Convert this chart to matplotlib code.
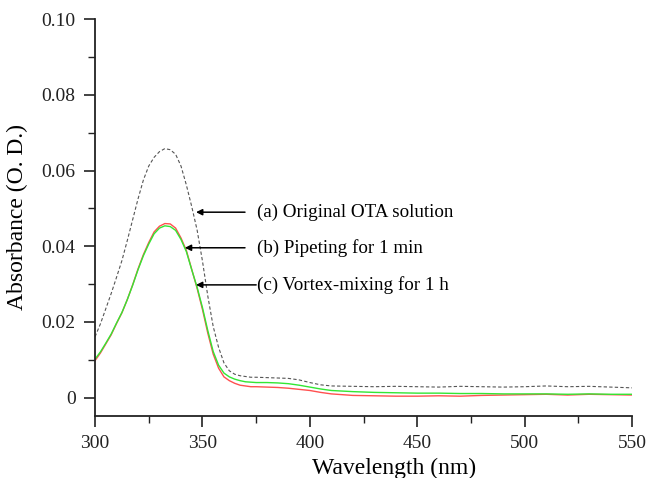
import matplotlib.pyplot as plt
from matplotlib.ticker import FixedLocator, FixedFormatter, MultipleLocator

plt.rcParams["font.family"] = "Liberation Serif"

# Wavelength grid (nm): fine steps over the band, coarser over the flat tail
wavelength = [300, 302.5, 305, 307.5, 310, 312.5, 315, 317.5, 320, 322.5,
              325, 327.5, 330, 332.5, 335, 337.5, 340, 342.5, 345, 347.5,
              350, 352.5, 355, 357.5, 360, 362.5, 365, 367.5, 370, 372.5,
              375, 380, 385, 390, 395, 400, 405, 410, 420, 430, 440, 450,
              460, 470, 480, 490, 500, 510, 520, 530, 540, 550]

# (a) original OTA solution
orig_ota = [0.0161, 0.0195, 0.0235, 0.0275, 0.0318, 0.0362, 0.0415, 0.0470,
            0.0525, 0.0575, 0.0612, 0.0635, 0.0650, 0.0658, 0.0655, 0.0643,
            0.0612, 0.0562, 0.0505, 0.0443, 0.0361, 0.0268, 0.0188, 0.0133,
            0.0092, 0.0071, 0.0062, 0.0058, 0.0056, 0.0054, 0.0054, 0.0053,
            0.0052, 0.0051, 0.0047, 0.0040, 0.0034, 0.0031, 0.0030, 0.0029,
            0.0030, 0.0029, 0.0028, 0.0030, 0.0029, 0.0028, 0.0029, 0.0031,
            0.0029, 0.0030, 0.0028, 0.0026]

# (b) pipeting for 1 min
pipeting = [0.0098, 0.0118, 0.0142, 0.0166, 0.0196, 0.0224, 0.0259, 0.0298,
            0.0340, 0.0378, 0.0410, 0.0438, 0.0453, 0.0460, 0.0459, 0.0448,
            0.0422, 0.0389, 0.0339, 0.0289, 0.0233, 0.0170, 0.0115, 0.0078,
            0.0055, 0.0045, 0.0038, 0.0033, 0.0031, 0.0029, 0.0029, 0.0028,
            0.0027, 0.0025, 0.0022, 0.0019, 0.0014, 0.0010, 0.0006, 0.0005,
            0.0004, 0.0004, 0.0005, 0.0004, 0.0006, 0.0007, 0.0008, 0.0009,
            0.0007, 0.0009, 0.0008, 0.0007]

# (c) vortex-mixing for 1 h
vortex = [0.0102, 0.0121, 0.0144, 0.0168, 0.0197, 0.0225, 0.0259, 0.0297,
          0.0338, 0.0375, 0.0406, 0.0433, 0.0448, 0.0454, 0.0452, 0.0442,
          0.0418, 0.0386, 0.0338, 0.0292, 0.0238, 0.0177, 0.0122, 0.0086,
          0.0065, 0.0055, 0.0049, 0.0045, 0.0042, 0.0041, 0.0040, 0.0040,
          0.0039, 0.0037, 0.0033, 0.0028, 0.0023, 0.0019, 0.0016, 0.0014,
          0.0013, 0.0012, 0.0012, 0.0011, 0.0011, 0.0010, 0.0010, 0.0010,
          0.0009, 0.0010, 0.0009, 0.0009]

labels = ["(a) Original OTA solution", "(b) Pipeting for 1 min",
          "(c) Vortex-mixing for 1 h"]
arrow_heads = [(347.0, 0.0490), (341.8, 0.0396), (347.0, 0.0298)]
arrow_tails = [369.8, 369.8, 375.0]
text_x = 375.6

y_ticks = [0, 0.02, 0.04, 0.06, 0.08, 0.10]
y_tick_labels = ["0", "0.02", "0.04", "0.06", "0.08", "0.10"]
x_ticks = [300, 350, 400, 450, 500, 550]

fig = plt.figure(figsize=(6.51, 4.78), dpi=100)
ax = fig.add_axes([0.146, 0.13, 0.825, 0.83])

ax.plot(wavelength, pipeting, color="#ff5050", lw=1.0)
ax.plot(wavelength, vortex, color="#33e633", lw=1.0)
ax.plot(wavelength, orig_ota, color="#555555", lw=0.8, ls=(0, (3, 2)))

for lab, (hx, hy), tx in zip(labels, arrow_heads, arrow_tails):
    ax.annotate("", xy=(hx, hy), xytext=(tx, hy),
                arrowprops=dict(arrowstyle="-|>", color="k", lw=1.1,
                                mutation_scale=9, shrinkA=0, shrinkB=0))
    ax.text(text_x, hy, lab, fontsize=13.7, ha="left", va="center")

ax.set_xlim(300, 550)
ax.set_ylim(-0.0048, 0.10)
ax.xaxis.set_major_locator(FixedLocator(x_ticks))
ax.xaxis.set_minor_locator(MultipleLocator(25))
ax.yaxis.set_major_locator(FixedLocator(y_ticks))
ax.yaxis.set_major_formatter(FixedFormatter(y_tick_labels))
ax.yaxis.set_minor_locator(MultipleLocator(0.01))

for side in ("top", "right"):
    ax.spines[side].set_visible(False)
for side in ("left", "bottom"):
    ax.spines[side].set_linewidth(1.3)
    ax.spines[side].set_color("#222222")

ax.tick_params(which="major", direction="out", length=8, width=1.2,
               labelsize=14, pad=6, colors="#222222")
ax.tick_params(which="minor", direction="out", length=5, width=1.0,
               colors="#222222")

ax.set_xlabel("Wavelength (nm)", fontsize=17)
ax.set_ylabel("Absorbance (O. D.)", fontsize=17)
ax.xaxis.set_label_coords(0.557, -0.105)
ax.yaxis.set_label_coords(-0.125, 0.5)

fig.savefig("out.png", dpi=100)
